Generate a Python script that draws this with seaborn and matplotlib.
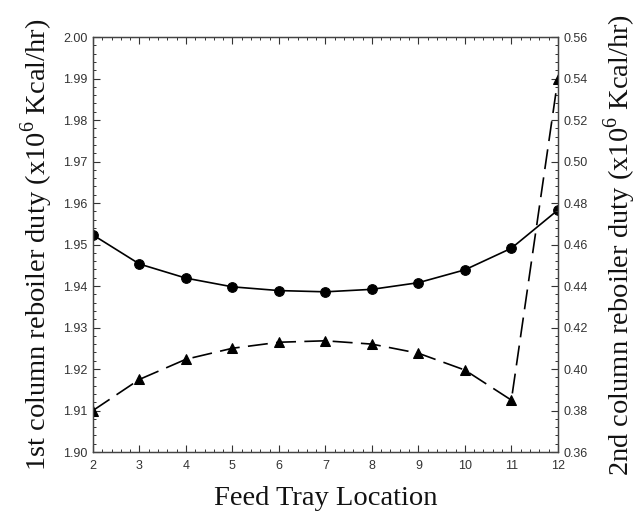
import matplotlib
matplotlib.use("Agg")
import matplotlib.pyplot as plt
from matplotlib.ticker import MultipleLocator, FormatStrFormatter
import seaborn as sns
import pandas as pd

trays = [2, 3, 4, 5, 6, 7, 8, 9, 10, 11, 12]
duty_col1 = [1.9523, 1.9453, 1.9419, 1.9398, 1.9389, 1.9386, 1.9392, 1.9408, 1.9439, 1.9491, 1.9583]
duty_col2 = [0.380, 0.395, 0.4047, 0.410, 0.4129, 0.4136, 0.412, 0.4076, 0.3995, 0.385, 0.5396]

df = pd.DataFrame({"tray": trays, "d1": duty_col1, "d2": duty_col2})

sns.set_theme(style="ticks")
plt.rcParams["font.family"] = ["Liberation Sans", "DejaVu Sans"]
plt.rcParams["mathtext.fontset"] = "custom"
plt.rcParams["mathtext.rm"] = "Liberation Serif"

fig = plt.figure(figsize=(6.39, 5.14), dpi=100)
ax = fig.add_axes([0.1455, 0.1206, 0.873 - 0.1455, 0.928 - 0.1206])
ax2 = ax.twinx()

sns.lineplot(data=df, x="tray", y="d1", ax=ax, color="black", linewidth=1.2,
             marker="o", markersize=7, markeredgecolor="black")
sns.lineplot(data=df, x="tray", y="d2", ax=ax2, color="black", linewidth=1.2,
             marker="^", markersize=6.5, markeredgecolor="black", dashes=False)
ax2.lines[0].set_dashes([12, 5])

ax.set_xlim(2, 12)
ax.set_ylim(1.90, 2.00)
ax2.set_ylim(0.36, 0.56)

ax.xaxis.set_major_locator(MultipleLocator(1))
ax.xaxis.set_minor_locator(MultipleLocator(0.2))
ax.yaxis.set_major_locator(MultipleLocator(0.01))
ax.yaxis.set_minor_locator(MultipleLocator(0.002))
ax.yaxis.set_major_formatter(FormatStrFormatter("%.2f"))
ax2.yaxis.set_major_locator(MultipleLocator(0.02))
ax2.yaxis.set_minor_locator(MultipleLocator(0.004))
ax2.yaxis.set_major_formatter(FormatStrFormatter("%.2f"))

tc = "#333333"
ax.tick_params(axis="x", which="both", direction="in", top=True, bottom=True,
               labelsize=9, colors=tc, pad=6)
ax.tick_params(axis="y", which="both", direction="in", left=True, right=False,
               labelsize=9, colors=tc, pad=4)
ax2.tick_params(axis="y", which="both", direction="in", right=True, left=False,
                labelsize=9, colors=tc, pad=4)
for a in (ax, ax2):
    a.tick_params(which="major", length=5, width=0.8)
    a.tick_params(which="minor", length=2.5, width=0.7)
    for s in a.spines.values():
        s.set_color("#444444")
        s.set_linewidth(0.9)
        s.set_visible(True)

serif = ["Liberation Serif", "DejaVu Serif"]
ax.set_xlabel("Feed Tray Location", family=serif, fontsize=20.5, color="#111111", labelpad=10)
ax.set_ylabel(r"1st column reboiler duty (x10$^{\mathrm{6}}$ Kcal/hr)", family=serif,
              fontsize=20.5, color="#111111", labelpad=6)
ax2.set_ylabel(r"2nd column reboiler duty (x10$^{\mathrm{6}}$ Kcal/hr)", family=serif,
               fontsize=20.5, color="#111111", labelpad=10)

fig.savefig("out.png", dpi=100)
